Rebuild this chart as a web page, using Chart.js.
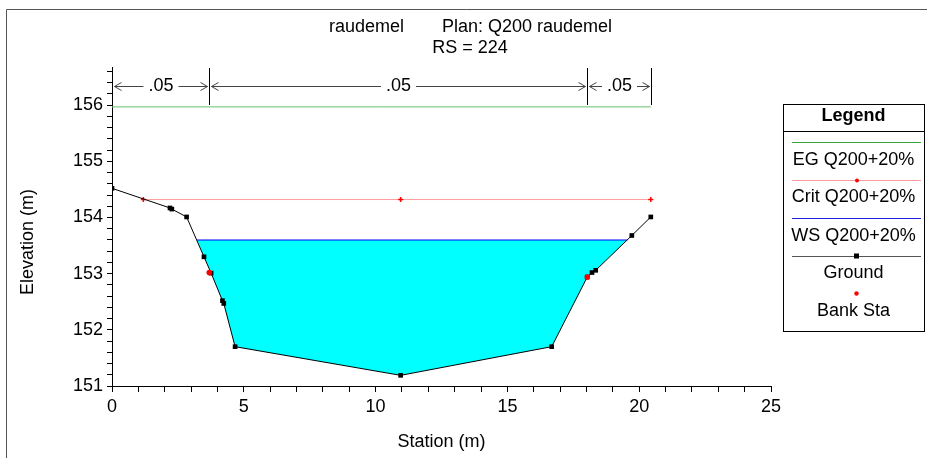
<!DOCTYPE html>
<html>
<head>
<meta charset="utf-8">
<script src="https://cdn.jsdelivr.net/npm/chart.js@4"></script>
<style>
  html, body { margin: 0; padding: 0; background: #fff; }
  #wrap { position: relative; width: 927px; height: 458px; }
</style>
</head>
<body>
<div id="wrap"><canvas id="xsChart" width="927" height="458"></canvas></div>
<script>
const groundStation = [0, 2.20, 2.27, 2.83, 3.49, 3.76, 4.19, 4.24, 4.67, 10.95, 16.68, 18.03, 18.21, 18.35, 19.72, 20.44];
const groundElev    = [154.52, 154.17, 154.15, 154.01, 153.30, 153.01, 152.52, 152.47, 151.70, 151.19, 151.70, 152.94, 153.02, 153.06, 153.68, 154.01];

const bankStation = [3.69, 18.03];
const bankElev    = [153.02, 152.94];

const wsElev = 153.60;
const wsStation = [3.22, 19.55];        // where the water surface meets the ground

const critElev = 154.32;
const critStation = [1.19, 10.95, 20.44];

const egElev = 155.97;
const egStation = [0, 20.44];

const nValueStation = [0, 3.69, 18.03, 20.44];
const nValueLabel = ['.05', '.05', '.05'];

const xTicksMin = 0, xTicksMax = 25;
const yTicksMin = 151, yTicksMax = 156.68;

const FONT = "'Liberation Sans', Arial, sans-serif";
const FS = 18;

// water polygon: surface edge -> ground below it -> other surface edge
const wsPolygon = [{ x: wsStation[0], y: wsElev }];
groundStation.forEach((s, i) => {
    if (s > wsStation[0] && s < wsStation[1]) wsPolygon.push({ x: s, y: groundElev[i] });
});
wsPolygon.push({ x: wsStation[1], y: wsElev });

const pts = (xs, ys) => xs.map((x, i) => ({ x, y: Array.isArray(ys) ? ys[i] : ys }));

// ---- extra drawing: titles, n-value bars, legend, frame ----
const decorPlugin = {
    id: 'decor',
    afterDraw(chart) {
        const ctx = chart.ctx;
        const xs = chart.scales.x;
        ctx.save();

        // outer frame
        ctx.strokeStyle = '#555';
        ctx.lineWidth = 1;
        ctx.beginPath();
        ctx.moveTo(6.5, 458);
        ctx.lineTo(6.5, 9.5);
        ctx.lineTo(927, 9.5);
        ctx.stroke();

        // titles
        ctx.fillStyle = '#000';
        ctx.font = `${FS}px ${FONT}`;
        ctx.textAlign = 'left';
        ctx.textBaseline = 'middle';
        ctx.fillText('raudemel', 329, 27);
        ctx.fillText('Plan: Q200 raudemel', 442, 27);
        ctx.textAlign = 'center';
        ctx.fillText('RS = 224', 470, 48);

        // y axis title
        ctx.save();
        ctx.translate(28, 242);
        ctx.rotate(-Math.PI / 2);
        ctx.fillText('Elevation (m)', 0, 0);
        ctx.restore();

        // n-value bars
        const top = 68, bot = 105, yArr = 86;
        ctx.strokeStyle = '#000';
        ctx.lineWidth = 1;
        const px = nValueStation.map(s => Math.round(xs.getPixelForValue(s)) + 0.5);
        px.forEach(p => {
            ctx.beginPath(); ctx.moveTo(p, top); ctx.lineTo(p, bot); ctx.stroke();
        });
        for (let i = 0; i < nValueLabel.length; i++) {
            const a = px[i] + 2, b = px[i + 1] - 2, mid = (a + b) / 2;
            const w = ctx.measureText(nValueLabel[i]).width / 2 + 5;
            ctx.strokeStyle = '#444';
            ctx.beginPath();
            ctx.moveTo(a, yArr + 0.5); ctx.lineTo(mid - w, yArr + 0.5);
            ctx.moveTo(mid + w, yArr + 0.5); ctx.lineTo(b, yArr + 0.5);
            // arrow heads
            ctx.moveTo(a + 7, yArr - 3.5); ctx.lineTo(a, yArr + 0.5); ctx.lineTo(a + 7, yArr + 4.5);
            ctx.moveTo(b - 7, yArr - 3.5); ctx.lineTo(b, yArr + 0.5); ctx.lineTo(b - 7, yArr + 4.5);
            ctx.stroke();
            ctx.fillStyle = '#000';
            ctx.fillText(nValueLabel[i], mid, yArr);
        }

        // legend box
        const L = 783, T = 104, R = 924, B = 331, cx = (L + R) / 2;
        ctx.strokeStyle = '#000';
        ctx.strokeRect(L + 0.5, T + 0.5, R - L, B - T);
        ctx.beginPath(); ctx.moveTo(L, 131.5); ctx.lineTo(R, 131.5); ctx.stroke();
        ctx.font = `bold ${FS}px ${FONT}`;
        ctx.fillText('Legend', cx, 116);
        ctx.font = `${FS}px ${FONT}`;

        const seg = (y, color) => {
            ctx.strokeStyle = color; ctx.lineWidth = 1;
            ctx.beginPath(); ctx.moveTo(792, y + 0.5); ctx.lineTo(921, y + 0.5); ctx.stroke();
        };
        seg(142, '#3aa53a');
        ctx.fillStyle = '#000'; ctx.fillText('EG Q200+20%', cx, 160);
        seg(180, '#ff9a9a');
        ctx.fillStyle = '#f00'; ctx.beginPath(); ctx.arc(857, 180.5, 2, 0, Math.PI * 2); ctx.fill();
        ctx.fillStyle = '#000'; ctx.fillText('Crit Q200+20%', cx, 197);
        seg(218, '#2020e0');
        ctx.fillStyle = '#000'; ctx.fillText('WS Q200+20%', cx, 236);
        seg(256, '#555');
        ctx.fillStyle = '#000'; ctx.fillRect(854, 253.5, 5, 5);
        ctx.fillText('Ground', cx, 273);
        ctx.fillStyle = '#f00'; ctx.beginPath(); ctx.arc(856.5, 293.5, 2.2, 0, Math.PI * 2); ctx.fill();
        ctx.fillStyle = '#000'; ctx.fillText('Bank Sta', cx, 311);

        ctx.restore();
    }
};

const ctx = document.getElementById('xsChart');

new Chart(ctx, {
    type: 'scatter',
    data: {
        datasets: [
            {
                label: 'Bank Sta',
                data: pts(bankStation, bankElev),
                showLine: false,
                pointStyle: 'circle',
                pointRadius: 2.8,
                pointBackgroundColor: '#ff0000',
                pointBorderWidth: 0
            },
            {
                label: 'Ground',
                data: pts(groundStation, groundElev),
                showLine: true,
                borderColor: '#000',
                borderWidth: 1,
                pointStyle: 'rect',
                pointRadius: 3.3,
                pointBackgroundColor: '#000',
                pointBorderColor: '#000',
                pointBorderWidth: 0
            },
            {
                label: 'WS Q200+20%',
                data: pts(wsStation, wsElev),
                showLine: true,
                borderColor: '#0000ff',
                borderWidth: 1.2,
                pointRadius: 0
            },
            {
                label: 'WS fill',
                data: wsPolygon,
                showLine: true,
                fill: 'shape',
                backgroundColor: '#00ffff',
                borderWidth: 0,
                borderColor: 'rgba(0,0,0,0)',
                pointRadius: 0
            },
            {
                label: 'Crit Q200+20%',
                data: pts(critStation, critElev),
                showLine: true,
                borderColor: '#ff9c9c',
                borderWidth: 1,
                pointStyle: 'cross',
                pointRadius: 2.5,
                pointBorderColor: '#ff0000',
                pointBorderWidth: 1.5
            },
            {
                label: 'EG Q200+20%',
                data: pts(egStation, egElev),
                showLine: true,
                borderColor: '#6cbf6c',
                borderWidth: 1,
                pointRadius: 0
            }
        ]
    },
    options: {
        responsive: false,
        animation: false,
        events: [],
        layout: { padding: { left: 0, right: 156, top: 67, bottom: 0 } },
        plugins: { legend: { display: false }, tooltip: { enabled: false }, title: { display: false } },
        scales: {
            x: {
                type: 'linear',
                min: xTicksMin,
                max: xTicksMax,
                afterFit: (s) => { s.height = 72; },
                border: { display: true, color: '#000', width: 1 },
                grid: { drawOnChartArea: false, drawTicks: true, tickLength: 6, tickColor: '#000' },
                ticks: {
                    stepSize: 1,
                    autoSkip: false,
                    maxRotation: 0,
                    padding: 4,
                    color: '#000',
                    font: { family: FONT, size: FS },
                    callback: (v) => (v % 5 === 0 ? String(v) : '')
                },
                title: {
                    display: true,
                    text: 'Station (m)',
                    color: '#000',
                    font: { family: FONT, size: FS },
                    padding: { top: 0, bottom: 5 }
                }
            },
            y: {
                type: 'linear',
                min: yTicksMin,
                max: yTicksMax,
                afterFit: (s) => { s.width = 112; },
                border: { display: true, color: '#000', width: 1 },
                grid: { drawOnChartArea: false, drawTicks: true, tickLength: 5, tickColor: '#000' },
                ticks: {
                    stepSize: 0.2,
                    includeBounds: false,
                    autoSkip: false,
                    padding: 4,
                    color: '#000',
                    font: { family: FONT, size: FS },
                    callback: (v) => (Math.abs(v - Math.round(v)) < 1e-6 ? String(Math.round(v)) : '')
                }
            }
        }
    },
    plugins: [decorPlugin]
});
</script>
</body>
</html>
